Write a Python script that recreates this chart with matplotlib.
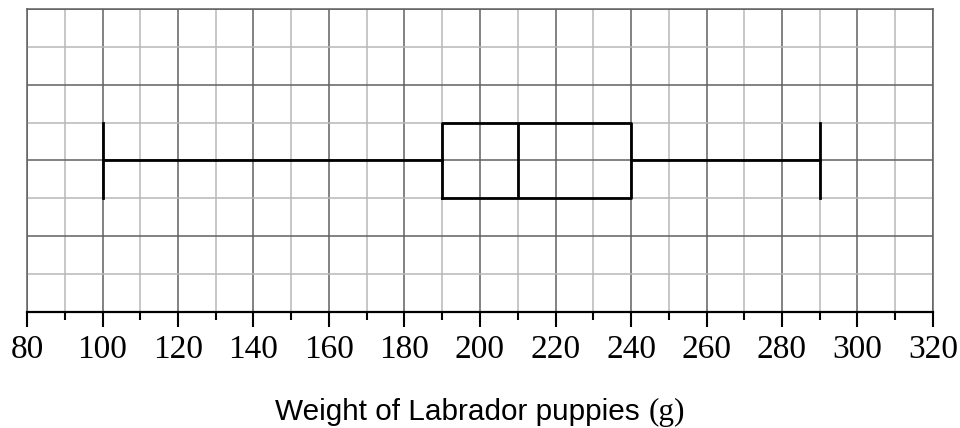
import numpy as np
import matplotlib
matplotlib.use("Agg")
import matplotlib.pyplot as plt
from matplotlib.ticker import MultipleLocator

# five number summary (g)
stats_min = 100
stats_q1 = 190
stats_median = 210
stats_q3 = 240
stats_max = 290

x_ticks = [80, 100, 120, 140, 160, 180, 200, 220, 240, 260, 280, 300, 320]

fig = plt.figure(figsize=(9.6, 4.28), dpi=100)
ax = fig.add_axes([27 / 960, 1 - 312 / 428, 906 / 960, 303 / 428])

ax.set_xlim(80, 320)
ax.set_ylim(0, 8)

# grid
ax.xaxis.set_major_locator(MultipleLocator(20))
ax.xaxis.set_minor_locator(MultipleLocator(10))
ax.yaxis.set_major_locator(MultipleLocator(2))
ax.yaxis.set_minor_locator(MultipleLocator(1))
ax.grid(which="minor", color="#b8b8b8", lw=1.1)
ax.grid(which="major", color="#606060", lw=1.1)
ax.set_axisbelow(True)

stats = [dict(med=stats_median, q1=stats_q1, q3=stats_q3,
              whislo=stats_min, whishi=stats_max, fliers=[])]
lp = dict(color="black", lw=2.0)
ax.bxp(stats, positions=[4], widths=[2], capwidths=[2], vert=False,
       showfliers=False, boxprops=lp, medianprops=lp,
       whiskerprops=lp, capprops=lp, manage_ticks=False)

ax.set_xticks(x_ticks)
ax.set_xticklabels([str(t) for t in x_ticks], family="Liberation Serif",
                   fontsize=24)
ax.tick_params(axis="x", which="major", length=11, width=1.5, pad=5,
               color="black")
ax.tick_params(axis="x", which="minor", length=6, width=1.5, color="black")
ax.tick_params(axis="y", which="both", length=0, labelleft=False)

for side in ["top", "left", "right"]:
    ax.spines[side].set_color("#606060")
    ax.spines[side].set_linewidth(1.1)
ax.spines["bottom"].set_color("black")
ax.spines["bottom"].set_linewidth(1.6)

# axis label: sans text with serif unit
fig.canvas.draw()
r = fig.canvas.get_renderer()
t1 = fig.text(0, 0, "Weight of Labrador puppies ", family="Liberation Sans",
              fontsize=21.4)
t2 = fig.text(0, 0, "(g)", family="Liberation Serif", fontsize=22.5)
w1 = t1.get_window_extent(r).width
w2 = t2.get_window_extent(r).width
x0 = (480 - (w1 + w2) / 2) / 960
yb = 1 - 420 / 428
t1.set_position((x0, yb))
t2.set_position((x0 + w1 / 960, yb))

fig.savefig("out.png", dpi=100)
